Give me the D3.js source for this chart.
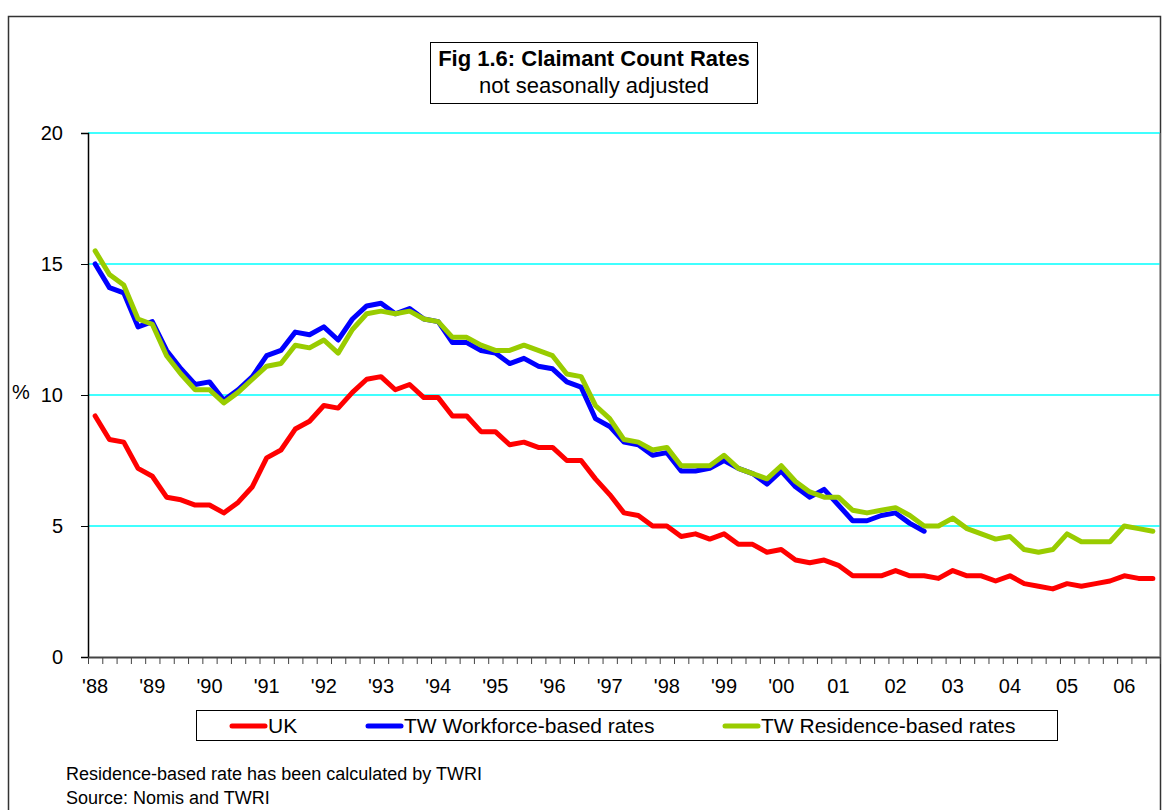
<!DOCTYPE html>
<html>
<head>
<meta charset="utf-8">
<script src="https://cdn.jsdelivr.net/npm/d3@7"></script>
<style>
  body { margin: 0; background: #fff; }
  svg text { font-family: "Liberation Sans", Arial, sans-serif; fill: #000; }
</style>
</head>
<body>
<div id="view"></div>
<script>
// quarterly claimant count rates, 1988 Q1 .. 2006 Q3
const yearLabels = ["'88", "'89", "'90", "'91", "'92", "'93", "'94", "'95", "'96", "'97",
                    "'98", "'99", "'00", "01", "02", "03", "04", "05", "06"];
const quarterCount = 75;

const ukRates = [
  9.2, 8.3, 8.2, 7.2, 6.9, 6.1, 6.0, 5.8, 5.8, 5.5, 5.9, 6.5, 7.6, 7.9, 8.7,
  9.0, 9.6, 9.5, 10.1, 10.6, 10.7, 10.2, 10.4, 9.9, 9.9, 9.2, 9.2, 8.6, 8.6, 8.1,
  8.2, 8.0, 8.0, 7.5, 7.5, 6.8, 6.2, 5.5, 5.4, 5.0, 5.0, 4.6, 4.7, 4.5, 4.7,
  4.3, 4.3, 4.0, 4.1, 3.7, 3.6, 3.7, 3.5, 3.1, 3.1, 3.1, 3.3, 3.1, 3.1, 3.0,
  3.3, 3.1, 3.1, 2.9, 3.1, 2.8, 2.7, 2.6, 2.8, 2.7, 2.8, 2.9, 3.1, 3.0, 3.0
];

const workforceRates = [
  15.0, 14.1, 13.9, 12.6, 12.8, 11.7, 11.0, 10.4, 10.5, 9.8, 10.2, 10.7, 11.5, 11.7, 12.4,
  12.3, 12.6, 12.1, 12.9, 13.4, 13.5, 13.1, 13.3, 12.9, 12.8, 12.0, 12.0, 11.7, 11.6, 11.2,
  11.4, 11.1, 11.0, 10.5, 10.3, 9.1, 8.8, 8.2, 8.1, 7.7, 7.8, 7.1, 7.1, 7.2, 7.5,
  7.2, 7.0, 6.6, 7.1, 6.5, 6.1, 6.4, 5.8, 5.2, 5.2, 5.4, 5.5, 5.1, 4.8
];

const residenceRates = [
  15.5, 14.6, 14.2, 12.9, 12.7, 11.5, 10.8, 10.2, 10.2, 9.7, 10.1, 10.6, 11.1, 11.2, 11.9,
  11.8, 12.1, 11.6, 12.5, 13.1, 13.2, 13.1, 13.2, 12.9, 12.8, 12.2, 12.2, 11.9, 11.7, 11.7,
  11.9, 11.7, 11.5, 10.8, 10.7, 9.6, 9.1, 8.3, 8.2, 7.9, 8.0, 7.3, 7.3, 7.3, 7.7,
  7.2, 7.0, 6.8, 7.3, 6.7, 6.3, 6.1, 6.1, 5.6, 5.5, 5.6, 5.7, 5.4, 5.0, 5.0,
  5.3, 4.9, 4.7, 4.5, 4.6, 4.1, 4.0, 4.1, 4.7, 4.4, 4.4, 4.4, 5.0, 4.9, 4.8
];

const yTicks = [0, 5, 10, 15, 20];

const seriesNames = ["UK", "TW Workforce-based rates", "TW Residence-based rates"];
const seriesColors = ["#ff0000", "#0000ff", "#99cc00"];
const seriesData = [ukRates, workforceRates, residenceRates];

const width = 1164, height = 810;
const plot = { left: 88, right: 1160, top: 133, bottom: 657 };

const svg = d3.select("#view")
  .append("svg")
  .attr("width", width)
  .attr("height", height);

// outer chart frame
svg.append("rect")
  .attr("x", 8.5).attr("y", 16.5)
  .attr("width", 1152).attr("height", 840)
  .attr("fill", "none")
  .attr("stroke", "#333")
  .attr("stroke-width", 1.5);

const quarters = d3.range(quarterCount);

const x = d3.scaleBand()
  .domain(quarters)
  .range([plot.left, plot.right])
  .padding(0);

const xEdge = d3.scaleLinear()
  .domain([0, quarterCount])
  .range([plot.left, plot.right]);

const y = d3.scaleLinear()
  .domain([0, 20])
  .range([plot.bottom, plot.top]);

// gridlines
svg.append("g")
  .selectAll("line")
  .data(yTicks.filter(d => d > 0))
  .join("line")
  .attr("x1", plot.left)
  .attr("x2", plot.right)
  .attr("y1", d => y(d))
  .attr("y2", d => y(d))
  .attr("stroke", "#00ffff")
  .attr("stroke-width", 1.6);

// y axis
const yAxis = d3.axisLeft(y).tickValues(yTicks).tickSize(7).tickPadding(18);
const gy = svg.append("g")
  .attr("transform", `translate(${plot.left},0)`)
  .call(yAxis);
gy.select(".domain").attr("stroke", "#000").attr("stroke-width", 1.5);
gy.selectAll(".tick line").attr("stroke", "#000");
gy.selectAll("text").style("font-size", "20px").attr("fill", "#000");

// x axis: quarter tick marks on band edges
const xTicks = d3.axisBottom(xEdge)
  .tickValues(d3.range(quarterCount + 1))
  .tickFormat("")
  .tickSize(7)
  .tickSizeOuter(0);
const gx = svg.append("g")
  .attr("transform", `translate(0,${plot.bottom})`)
  .call(xTicks);
gx.select(".domain").attr("stroke", "#444").attr("stroke-width", 2);
gx.selectAll(".tick line").attr("stroke", "#444");

// x axis: year labels on first quarter of each year
const xLabels = d3.axisBottom(x)
  .tickValues(yearLabels.map((d, i) => i * 4))
  .tickFormat(d => yearLabels[d / 4])
  .tickSize(0)
  .tickPadding(22);
const gxl = svg.append("g")
  .attr("transform", `translate(0,${plot.bottom})`)
  .call(xLabels);
gxl.select(".domain").remove();
gxl.selectAll("text").style("font-size", "20px").attr("fill", "#000");

// right edge of plot
svg.append("line")
  .attr("x1", plot.right).attr("x2", plot.right)
  .attr("y1", plot.top).attr("y2", plot.bottom)
  .attr("stroke", "#888").attr("stroke-width", 1);

// y axis title
svg.append("text")
  .attr("x", 12).attr("y", 399)
  .style("font-size", "20px")
  .text("%");

// series lines
const line = d3.line()
  .x((d, i) => x(i) + x.bandwidth() / 2)
  .y(d => y(d));

svg.append("g")
  .selectAll("path")
  .data(seriesData)
  .join("path")
  .attr("d", d => line(d))
  .attr("fill", "none")
  .attr("stroke", (d, i) => seriesColors[i])
  .attr("stroke-width", 5)
  .attr("stroke-linejoin", "round")
  .attr("stroke-linecap", "round");

// title box
svg.append("rect")
  .attr("x", 430.5).attr("y", 42.5)
  .attr("width", 327).attr("height", 61)
  .attr("fill", "#fff")
  .attr("stroke", "#000")
  .attr("stroke-width", 1);
svg.append("text")
  .attr("x", 594).attr("y", 66)
  .attr("text-anchor", "middle")
  .style("font-size", "22px")
  .style("font-weight", "bold")
  .text("Fig 1.6: Claimant Count Rates");
svg.append("text")
  .attr("x", 594).attr("y", 93)
  .attr("text-anchor", "middle")
  .style("font-size", "22px")
  .text("not seasonally adjusted");

// legend
const legend = svg.append("g");
legend.append("rect")
  .attr("x", 196.5).attr("y", 710.5)
  .attr("width", 861).attr("height", 30)
  .attr("fill", "#fff")
  .attr("stroke", "#000")
  .attr("stroke-width", 1);

const legendX = [232, 368, 725];
const items = legend.selectAll("g.item")
  .data(seriesNames)
  .join("g")
  .attr("class", "item")
  .attr("transform", (d, i) => `translate(${legendX[i]},726)`);
items.append("line")
  .attr("x1", 0).attr("x2", 33)
  .attr("y1", 0).attr("y2", 0)
  .attr("stroke", (d, i) => seriesColors[i])
  .attr("stroke-width", 5)
  .attr("stroke-linecap", "round");
items.append("text")
  .attr("x", 36).attr("y", 7)
  .style("font-size", "21px")
  .text(d => d);

// notes
svg.append("text")
  .attr("x", 66).attr("y", 780)
  .style("font-size", "18px")
  .text("Residence-based rate has been calculated by TWRI");
svg.append("text")
  .attr("x", 66).attr("y", 804)
  .style("font-size", "18px")
  .text("Source: Nomis and TWRI");
</script>
</body>
</html>
